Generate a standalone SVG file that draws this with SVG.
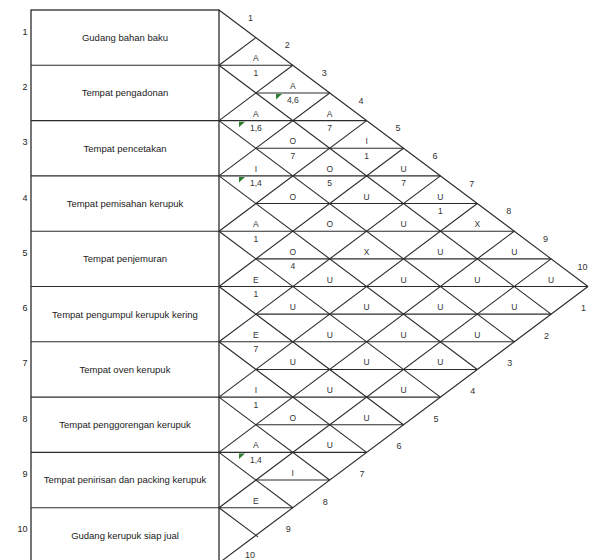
<svg xmlns="http://www.w3.org/2000/svg" width="597" height="560" viewBox="0 0 597 560">
  <style>
    .ln { stroke: #2b2b2b; stroke-width: 1.1; fill: none; }
    .box { stroke: #1a1a1a; stroke-width: 1.2; fill: #ffffff; }
    .dept { font-family: "Liberation Sans", Arial, sans-serif; font-size: 9.5px; fill: #222; text-anchor: middle; }
    .num { font-family: "Liberation Sans", Arial, sans-serif; font-size: 9px; fill: #222; text-anchor: end; }
    .code { font-family: "Liberation Sans", Arial, sans-serif; font-size: 8.5px; fill: #333; text-anchor: middle; }
    .why { font-family: "Liberation Sans", Arial, sans-serif; font-size: 8.5px; fill: #333; text-anchor: middle; }
    .edge { font-family: "Liberation Sans", Arial, sans-serif; font-size: 9px; fill: #333; text-anchor: middle; }
    .flag { fill: #2e7d32; }
  </style>
  <rect width="597" height="560" fill="#ffffff"/>

  <!-- department list -->
  <g id="departments">
    <rect class="box" x="31" y="10" width="188" height="553"/>
    <g id="dept-1"><text class="num" x="27.5" y="34.6">1</text><text class="dept" x="125" y="41">Gudang bahan baku</text></g>
    <g id="dept-2"><text class="num" x="27.5" y="89.9">2</text><text class="dept" x="125" y="96.3">Tempat pengadonan</text></g>
    <g id="dept-3"><text class="num" x="27.5" y="145.2">3</text><text class="dept" x="125" y="151.6">Tempat pencetakan</text></g>
    <g id="dept-4"><text class="num" x="27.5" y="200.5">4</text><text class="dept" x="125" y="206.9">Tempat pemisahan kerupuk</text></g>
    <g id="dept-5"><text class="num" x="27.5" y="255.8">5</text><text class="dept" x="125" y="262.2">Tempat penjemuran</text></g>
    <g id="dept-6"><text class="num" x="27.5" y="311.1">6</text><text class="dept" x="125" y="317.5">Tempat pengumpul kerupuk kering</text></g>
    <g id="dept-7"><text class="num" x="27.5" y="366.4">7</text><text class="dept" x="125" y="372.8">Tempat oven kerupuk</text></g>
    <g id="dept-8"><text class="num" x="27.5" y="421.7">8</text><text class="dept" x="125" y="428.1">Tempat penggorengan kerupuk</text></g>
    <g id="dept-9"><text class="num" x="27.5" y="477">9</text><text class="dept" x="125" y="483.4">Tempat penirisan dan packing kerupuk</text></g>
    <g id="dept-10"><text class="num" x="27.5" y="532.3">10</text><text class="dept" x="125" y="538.7">Gudang kerupuk siap jual</text></g>
  </g>

  <!-- relationship grid -->
  <g id="connectors" class="ln">
    <!-- row boundaries continuing as diamond midlines -->
    <line x1="31" y1="65.3" x2="292.8" y2="65.3"/>
    <line x1="31" y1="120.6" x2="366.6" y2="120.6"/>
    <line x1="31" y1="175.9" x2="440.4" y2="175.9"/>
    <line x1="31" y1="231.2" x2="514.2" y2="231.2"/>
    <line x1="31" y1="286.5" x2="588" y2="286.5"/>
    <line x1="31" y1="341.8" x2="514.2" y2="341.8"/>
    <line x1="31" y1="397.1" x2="440.4" y2="397.1"/>
    <line x1="31" y1="452.4" x2="366.6" y2="452.4"/>
    <line x1="31" y1="507.7" x2="292.8" y2="507.7"/>
    <!-- midlines through row centres -->
    <line x1="255.9" y1="92.95" x2="329.7" y2="92.95"/>
    <line x1="255.9" y1="148.25" x2="403.5" y2="148.25"/>
    <line x1="255.9" y1="203.55" x2="477.3" y2="203.55"/>
    <line x1="255.9" y1="258.85" x2="551.1" y2="258.85"/>
    <line x1="255.9" y1="314.15" x2="551.1" y2="314.15"/>
    <line x1="255.9" y1="369.45" x2="477.3" y2="369.45"/>
    <line x1="255.9" y1="424.75" x2="403.5" y2="424.75"/>
    <line x1="255.9" y1="480.05" x2="329.7" y2="480.05"/>
    <!-- down-right diagonals -->
    <line x1="219" y1="10" x2="588" y2="286.5"/>
    <line x1="219" y1="65.3" x2="551.1" y2="314.15"/>
    <line x1="219" y1="120.6" x2="514.2" y2="341.8"/>
    <line x1="219" y1="175.9" x2="477.3" y2="369.45"/>
    <line x1="219" y1="231.2" x2="440.4" y2="397.1"/>
    <line x1="219" y1="286.5" x2="403.5" y2="424.75"/>
    <line x1="219" y1="341.8" x2="366.6" y2="452.4"/>
    <line x1="219" y1="397.1" x2="329.7" y2="480.05"/>
    <line x1="219" y1="452.4" x2="292.8" y2="507.7"/>
    <line x1="219" y1="507.7" x2="258" y2="536.9"/>
    <!-- up-right diagonals -->
    <line x1="219" y1="65.3" x2="255.9" y2="37.65"/>
    <line x1="219" y1="120.6" x2="292.8" y2="65.3"/>
    <line x1="219" y1="175.9" x2="329.7" y2="92.95"/>
    <line x1="219" y1="231.2" x2="366.6" y2="120.6"/>
    <line x1="219" y1="286.5" x2="403.5" y2="148.25"/>
    <line x1="219" y1="341.8" x2="440.4" y2="175.9"/>
    <line x1="219" y1="397.1" x2="477.3" y2="203.55"/>
    <line x1="219" y1="452.4" x2="514.2" y2="231.2"/>
    <line x1="219" y1="507.7" x2="551.1" y2="258.85"/>
    <line x1="219" y1="563" x2="588" y2="286.5"/>
  </g>

  <!-- closeness codes (above midline) and reasons (below midline) -->
  <g id="pair-1-2"><text class="code" x="255.9" y="61.3">A</text><text class="why" x="255.9" y="75.8">1</text></g>
  <g id="pair-1-3"><text class="code" x="292.8" y="88.95">A</text><polygon class="flag" points="276,94 282,94 276,99.5"/><text class="why" x="292.8" y="103.45">4,6</text></g>
  <g id="pair-2-3"><text class="code" x="255.9" y="116.6">A</text><polygon class="flag" points="239,121.7 245,121.7 239,127.2"/><text class="why" x="255.9" y="131.1">1,6</text></g>
  <g id="pair-1-4"><text class="code" x="329.7" y="116.6">A</text><text class="why" x="329.7" y="131.1">7</text></g>
  <g id="pair-2-4"><text class="code" x="292.8" y="144.25">O</text><text class="why" x="292.8" y="158.75">7</text></g>
  <g id="pair-1-5"><text class="code" x="366.6" y="144.25">I</text><text class="why" x="366.6" y="158.75">1</text></g>
  <g id="pair-3-4"><text class="code" x="255.9" y="171.9">I</text><polygon class="flag" points="239,177 245,177 239,182.5"/><text class="why" x="255.9" y="186.4">1,4</text></g>
  <g id="pair-2-5"><text class="code" x="329.7" y="171.9">O</text><text class="why" x="329.7" y="186.4">5</text></g>
  <g id="pair-1-6"><text class="code" x="403.5" y="171.9">U</text><text class="why" x="403.5" y="186.4">7</text></g>
  <g id="pair-3-5"><text class="code" x="292.8" y="199.55">O</text></g>
  <g id="pair-2-6"><text class="code" x="366.6" y="199.55">U</text></g>
  <g id="pair-1-7"><text class="code" x="440.4" y="199.55">U</text><text class="why" x="440.4" y="214.05">1</text></g>
  <g id="pair-4-5"><text class="code" x="255.9" y="227.2">A</text><text class="why" x="255.9" y="241.7">1</text></g>
  <g id="pair-3-6"><text class="code" x="329.7" y="227.2">O</text></g>
  <g id="pair-2-7"><text class="code" x="403.5" y="227.2">U</text></g>
  <g id="pair-1-8"><text class="code" x="477.3" y="227.2">X</text></g>
  <g id="pair-4-6"><text class="code" x="292.8" y="254.85">O</text><text class="why" x="292.8" y="269.35">4</text></g>
  <g id="pair-3-7"><text class="code" x="366.6" y="254.85">X</text></g>
  <g id="pair-2-8"><text class="code" x="440.4" y="254.85">U</text></g>
  <g id="pair-1-9"><text class="code" x="514.2" y="254.85">U</text></g>
  <g id="pair-5-6"><text class="code" x="255.9" y="282.5">E</text><text class="why" x="255.9" y="297">1</text></g>
  <g id="pair-4-7"><text class="code" x="329.7" y="282.5">U</text></g>
  <g id="pair-3-8"><text class="code" x="403.5" y="282.5">U</text></g>
  <g id="pair-2-9"><text class="code" x="477.3" y="282.5">U</text></g>
  <g id="pair-1-10"><text class="code" x="551.1" y="282.5">U</text></g>
  <g id="pair-5-7"><text class="code" x="292.8" y="310.15">U</text></g>
  <g id="pair-4-8"><text class="code" x="366.6" y="310.15">U</text></g>
  <g id="pair-3-9"><text class="code" x="440.4" y="310.15">U</text></g>
  <g id="pair-2-10"><text class="code" x="514.2" y="310.15">U</text></g>
  <g id="pair-6-7"><text class="code" x="255.9" y="337.8">E</text><text class="why" x="255.9" y="352.3">7</text></g>
  <g id="pair-5-8"><text class="code" x="329.7" y="337.8">U</text></g>
  <g id="pair-4-9"><text class="code" x="403.5" y="337.8">U</text></g>
  <g id="pair-3-10"><text class="code" x="477.3" y="337.8">U</text></g>
  <g id="pair-6-8"><text class="code" x="292.8" y="365.45">U</text></g>
  <g id="pair-5-9"><text class="code" x="366.6" y="365.45">U</text></g>
  <g id="pair-4-10"><text class="code" x="440.4" y="365.45">U</text></g>
  <g id="pair-7-8"><text class="code" x="255.9" y="393.1">I</text><text class="why" x="255.9" y="407.6">1</text></g>
  <g id="pair-6-9"><text class="code" x="329.7" y="393.1">U</text></g>
  <g id="pair-5-10"><text class="code" x="403.5" y="393.1">U</text></g>
  <g id="pair-7-9"><text class="code" x="292.8" y="420.75">O</text></g>
  <g id="pair-6-10"><text class="code" x="366.6" y="420.75">U</text></g>
  <g id="pair-8-9"><text class="code" x="255.9" y="448.4">A</text><polygon class="flag" points="239,453.5 245,453.5 239,459"/><text class="why" x="255.9" y="462.9">1,4</text></g>
  <g id="pair-7-10"><text class="code" x="329.7" y="448.4">U</text></g>
  <g id="pair-8-10"><text class="code" x="292.8" y="476.05">I</text></g>
  <g id="pair-9-10"><text class="code" x="255.9" y="503.7">E</text></g>

  <!-- numbering along the two outer edges -->
  <g id="upper-edge-numbers" class="edge">
    <text x="250.4" y="20.7">1</text>
    <text x="287.3" y="48.3">2</text>
    <text x="324.2" y="76">3</text>
    <text x="361.1" y="103.6">4</text>
    <text x="398" y="131.3">5</text>
    <text x="434.9" y="158.9">6</text>
    <text x="471.8" y="186.6">7</text>
    <text x="508.7" y="214.2">8</text>
    <text x="545.6" y="241.9">9</text>
    <text x="582.5" y="269.5">10</text>
  </g>
  <g id="lower-edge-numbers" class="edge">
    <text x="583.5" y="311">1</text>
    <text x="546.6" y="338.7">2</text>
    <text x="509.7" y="366.3">3</text>
    <text x="472.8" y="394">4</text>
    <text x="435.9" y="421.6">5</text>
    <text x="399" y="449.3">6</text>
    <text x="362.1" y="476.9">7</text>
    <text x="325.2" y="504.6">8</text>
    <text x="288.3" y="532.2">9</text>
    <text x="250" y="558">10</text>
  </g>
</svg>
